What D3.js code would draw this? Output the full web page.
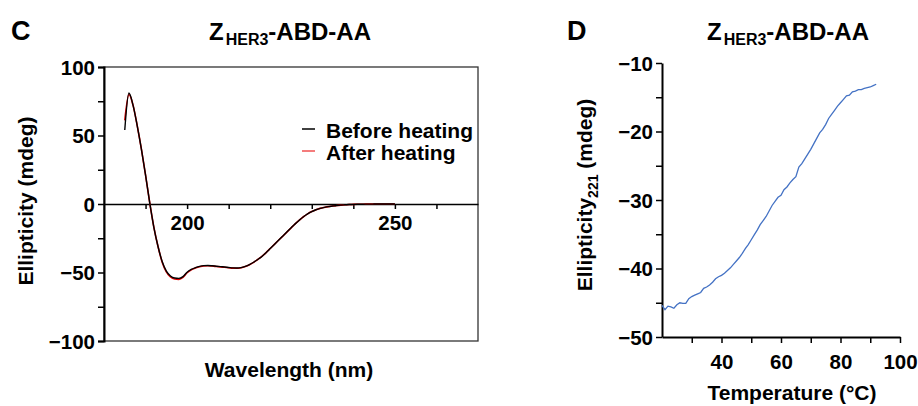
<!DOCTYPE html>
<html>
<head>
<meta charset="utf-8">
<script src="https://cdn.jsdelivr.net/npm/d3@7"></script>
<style>
  html, body { margin: 0; padding: 0; background: #fff; }
  svg text { font-family: "Liberation Sans", Arial, sans-serif; font-weight: bold; fill: #000; }
</style>
</head>
<body>
<svg id="chart" width="918" height="406"></svg>
<script>
// ---------- Data: Panel C (CD spectra) ----------
const wavelengths = [185,186,187,188,189,190,191,192,193,194,195,196,197,198,199,200,201,202,203,204,205,206,207,208,209,210,211,212,213,214,215,216,217,218,219,220,221,222,223,224,225,226,227,228,229,230,231,232,233,234,235,236,237,238,239,240,241,242,243,244,245,246,247,248,249,250];
const beforeHeating = [54,81,72,57,40,21,1,-17,-31,-42,-49,-52.5,-54,-54.3,-53,-49.8,-47.8,-46.5,-45.5,-45,-44.9,-45.1,-45.4,-45.7,-46.0,-46.3,-46.6,-46.7,-46.4,-45.5,-44.2,-42.5,-40.5,-38.3,-35.5,-32.5,-29.5,-26.5,-23.5,-20.5,-17.5,-14.5,-11.8,-9.3,-7.2,-5.5,-4.2,-3.2,-2.5,-1.9,-1.5,-1.1,-0.8,-0.6,-0.4,-0.3,-0.2,-0.15,-0.1,-0.1,-0.05,0,0,0,0,0];
const afterHeating  = [61,80,72,57,40,21,1,-17,-31,-42.5,-49.5,-53.3,-54.8,-55,-53.6,-50.2,-48.1,-46.8,-45.8,-45.2,-45.1,-45.3,-45.6,-45.9,-46.2,-46.5,-46.8,-46.9,-46.5,-45.6,-44.3,-42.6,-40.5,-38.3,-35.5,-32.5,-29.5,-26.5,-23.5,-20.5,-17.5,-14.5,-11.8,-9.3,-7.2,-5.5,-4.2,-3.2,-2.5,-1.9,-1.5,-1.1,-0.8,-0.6,-0.4,-0.3,-0.2,-0.15,-0.1,-0.1,-0.05,0,0,0,0,0];
const legendLabels = ["Before heating", "After heating"];
const cYTicks = [-100,-75,-50,-25,0,25,50,75,100];
const cYLabels = [-100,-50,0,50,100];
const cXTicks = [190,200,210,220,230,240,250,260];
const cXLabels = [200,250];

// ---------- Data: Panel D (thermal melt at 221 nm) ----------
const temperatures = [20,21,22,23,24,25,26,27,28,29,30,31,32,33,34,35,36,37,38,39,40,41,42,43,44,45,46,47,48,49,50,51,52,53,54,55,56,57,58,59,60,61,62,63,64,65,66,67,68,69,70,71,72,73,74,75,76,77,78,79,80,81,82,83,84,85,86,87,88,89,90,91,92];
const ellipticity221 = [-45.4,-46.0,-45.5,-45.6,-45.8,-45.3,-45.0,-45.1,-45.1,-44.4,-44.1,-43.9,-43.7,-43.5,-42.9,-42.7,-42.4,-42.0,-41.5,-41.2,-41.0,-40.7,-40.3,-39.9,-39.4,-38.9,-38.4,-37.8,-37.1,-36.5,-35.8,-35.1,-34.4,-33.6,-33.0,-32.4,-31.6,-30.8,-30.2,-29.6,-29.3,-28.5,-28.1,-27.5,-27.0,-26.6,-25.2,-24.7,-24.0,-23.3,-22.6,-21.8,-21.0,-20.2,-19.7,-19.0,-18.1,-17.5,-16.9,-16.3,-15.8,-15.3,-14.8,-14.7,-14.2,-14.1,-13.9,-13.9,-13.7,-13.6,-13.5,-13.3,-13.1];
const dYTicks = [-50,-45,-40,-35,-30,-25,-20,-15,-10];
const dYLabels = [-50,-40,-30,-20,-10];
const dXTicks = [30,40,50,60,70,80,90,100];
const dXLabels = [40,60,80,100];

const svg = d3.select("#chart");
const minus = d => (d < 0 ? "\u2212" + Math.abs(d) : String(d));

// ================= Panel C =================
const xC = d3.scaleLinear().domain([180, 270]).range([104, 478]);
const yC = d3.scaleLinear().domain([-100, 100]).range([341, 67]);
const gC = svg.append("g");

// frame
gC.append("rect").attr("x", xC(180)).attr("y", yC(100))
  .attr("width", xC(270) - xC(180)).attr("height", yC(-100) - yC(100))
  .attr("fill", "none").attr("stroke", "#333").attr("stroke-width", 1.3);

// y axis
const yAxisC = d3.axisLeft(yC).tickValues(cYTicks).tickSize(6)
  .tickFormat(d => cYLabels.includes(d) ? minus(d) : "");
const gyC = gC.append("g").attr("transform", `translate(${xC(180)},0)`).call(yAxisC);
gyC.select(".domain").attr("stroke", "#000").attr("stroke-width", 2);
gyC.selectAll(".tick line").attr("stroke", "#000").attr("stroke-width", 1.5);
gyC.selectAll(".tick text").attr("font-size", 20.5).attr("x", -9).attr("dy", "0.36em");

// x axis at y = 0
const xAxisC = d3.axisBottom(xC).tickValues(cXTicks).tickSize(5).tickSizeOuter(0)
  .tickFormat(d => cXLabels.includes(d) ? d : "");
const gxC = gC.append("g").attr("transform", `translate(0,${yC(0)})`).call(xAxisC);
gxC.select(".domain").attr("stroke", "#000").attr("stroke-width", 1.5);
gxC.selectAll(".tick line").attr("stroke", "#000").attr("stroke-width", 1.5);
gxC.selectAll(".tick text").attr("font-size", 20.5).attr("y", 26).attr("dy", 0);

// lines
const lineC = d3.line().curve(d3.curveMonotoneX)
  .x((d, i) => xC(wavelengths[i])).y(d => yC(d));
gC.append("path").datum(afterHeating).attr("d", lineC)
  .attr("fill", "none").attr("stroke", "#e00000").attr("stroke-width", 1.6);
gC.append("path").datum(beforeHeating).attr("d", lineC)
  .attr("fill", "none").attr("stroke", "#000").attr("stroke-width", 1.4);

// legend
const legColors = ["#000", "#f05050"];
const legY = [129, 151];
const legBase = [138, 160];
legendLabels.forEach((lab, i) => {
  gC.append("line").attr("x1", 302).attr("x2", 315).attr("y1", legY[i]).attr("y2", legY[i])
    .attr("stroke", legColors[i]).attr("stroke-width", 1.5);
  gC.append("text").attr("x", 326).attr("y", legBase[i]).attr("font-size", 21).text(lab);
});

// axis titles
gC.append("text").attr("transform", `translate(33,${(yC(100) + yC(-100)) / 2 - 3}) rotate(-90)`)
  .attr("text-anchor", "middle").attr("font-size", 21).text("Ellipticity (mdeg)");
gC.append("text").attr("x", (xC(180) + xC(270)) / 2 - 2).attr("y", 377)
  .attr("text-anchor", "middle").attr("font-size", 21).text("Wavelength (nm)");

// panel letter and title
svg.append("text").attr("x", 11).attr("y", 40).attr("font-size", 27).text("C");
const tC = svg.append("text").attr("x", 290).attr("y", 40).attr("text-anchor", "middle").attr("font-size", 24);
tC.append("tspan").text("Z");
tC.append("tspan").attr("font-size", 16).attr("dy", 5).attr("dx", 2).text("HER3");
tC.append("tspan").attr("dy", -5).text("-ABD-AA");

// ================= Panel D =================
const xD = d3.scaleLinear().domain([20, 100]).range([662, 900]);
const yD = d3.scaleLinear().domain([-50, -10]).range([337, 63]);
const gD = svg.append("g");

const yAxisD = d3.axisLeft(yD).tickValues(dYTicks).tickSize(6).tickSizeOuter(0)
  .tickFormat(d => dYLabels.includes(d) ? minus(d) : "");
const gyD = gD.append("g").attr("transform", `translate(${xD(20)},0)`).call(yAxisD);
gyD.select(".domain").attr("stroke", "#000").attr("stroke-width", 2);
gyD.selectAll(".tick line").attr("stroke", "#000").attr("stroke-width", 1.5);
gyD.selectAll(".tick text").attr("font-size", 20.5).attr("x", -9).attr("dy", "0.36em");

const xAxisD = d3.axisBottom(xD).tickValues(dXTicks).tickSize(6).tickSizeOuter(0)
  .tickFormat(d => dXLabels.includes(d) ? d : "");
const gxD = gD.append("g").attr("transform", `translate(0,${yD(-50)})`).call(xAxisD);
gxD.select(".domain").attr("stroke", "#000").attr("stroke-width", 2);
gxD.selectAll(".tick line").attr("stroke", "#000").attr("stroke-width", 1.5);
gxD.selectAll(".tick text").attr("font-size", 20.5).attr("y", 32).attr("dy", 0);

const lineD = d3.line().x((d, i) => xD(temperatures[i])).y(d => yD(d));
gD.append("path").datum(ellipticity221).attr("d", lineD)
  .attr("fill", "none").attr("stroke", "#4472C4").attr("stroke-width", 1.3);

// axis titles
const yt = gD.append("text").attr("transform", `translate(592,195) rotate(-90)`)
  .attr("text-anchor", "middle").attr("font-size", 21);
yt.append("tspan").text("Ellipticity");
yt.append("tspan").attr("font-size", 14).attr("dy", 6).text("221");
yt.append("tspan").attr("dy", -6).text(" (mdeg)");
gD.append("text").attr("x", 792).attr("y", 400).attr("text-anchor", "middle")
  .attr("font-size", 21).text("Temperature (°C)");

// panel letter and title
svg.append("text").attr("x", 567).attr("y", 40).attr("font-size", 27).text("D");
const tD = svg.append("text").attr("x", 788).attr("y", 40).attr("text-anchor", "middle").attr("font-size", 24);
tD.append("tspan").text("Z");
tD.append("tspan").attr("font-size", 16).attr("dy", 5).attr("dx", 2).text("HER3");
tD.append("tspan").attr("dy", -5).text("-ABD-AA");
</script>
</body>
</html>
